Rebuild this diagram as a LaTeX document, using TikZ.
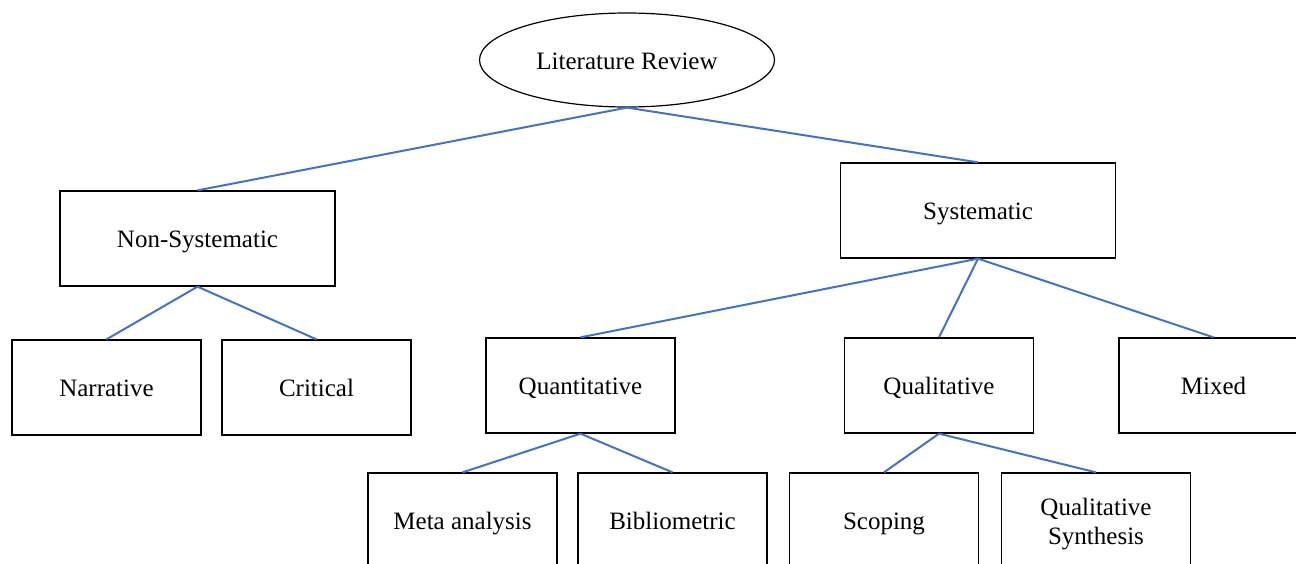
\documentclass[tikz,border=0pt]{standalone}
\usepackage{fontspec}
\setmainfont{Liberation Serif}
\usetikzlibrary{shapes.geometric}
\definecolor{linkblue}{HTML}{4472C4}
\tikzset{
  boxbase/.style={draw=black, line width=1.3pt, rectangle, minimum width=189pt, minimum height=95pt, inner sep=0pt, font=\fontsize{25}{29}\selectfont},
  box/.style={boxbase, text height=18pt, text depth=0pt},
  twobox/.style={boxbase, text height=20pt, text depth=30.5pt},
  bigbox/.style={box, minimum width=275pt},
  oval/.style={draw=black, line width=1.2pt, ellipse, minimum width=295pt, minimum height=94pt, inner sep=0pt, text height=18pt, text depth=0pt, font=\fontsize{25}{29}\selectfont},
  link/.style={draw=linkblue, line width=2pt}
}
\begin{document}
\begin{tikzpicture}[x=1pt,y=-1pt]
\useasboundingbox (0,0) rectangle (1296,563);
\fill[white] (0,0) rectangle (1296,563);
\clip (0,0) rectangle (1296,563);
\node[oval] (lr) at (627,60) {Literature Review};
\node[bigbox] (ns) at (197.5,238.5) {Non-Systematic};
\node[bigbox] (sy) at (978,210.5) {Systematic};
\node[box] (na) at (106.5,387.5) {Narrative};
\node[box] (cr) at (316.5,387.5) {Critical};
\node[box] (qn) at (580.5,385.5) {Quantitative};
\node[box] (ql) at (939,385.5) {Qualitative};
\node[box] (mx) at (1213.5,385.5) {Mixed};
\node[box] (ma) at (462.5,520.5) {Meta analysis};
\node[box] (bi) at (672.5,520.5) {Bibliometric};
\node[box] (sc) at (884,520.5) {Scoping};
\node[twobox] (qs) at (1096,520.5) {\begin{tabular}[t]{@{}c@{}}Qualitative\\Synthesis\end{tabular}};
\draw[link] (lr.south) -- (ns.north);
\draw[link] (lr.south) -- (sy.north);
\draw[link] (ns.south) -- (na.north);
\draw[link] (ns.south) -- (cr.north);
\draw[link] (sy.south) -- (qn.north);
\draw[link] (sy.south) -- (ql.north);
\draw[link] (sy.south) -- (mx.north);
\draw[link] (qn.south) -- (ma.north);
\draw[link] (qn.south) -- (bi.north);
\draw[link] (ql.south) -- (sc.north);
\draw[link] (ql.south) -- (qs.north);
\end{tikzpicture}
\end{document}
